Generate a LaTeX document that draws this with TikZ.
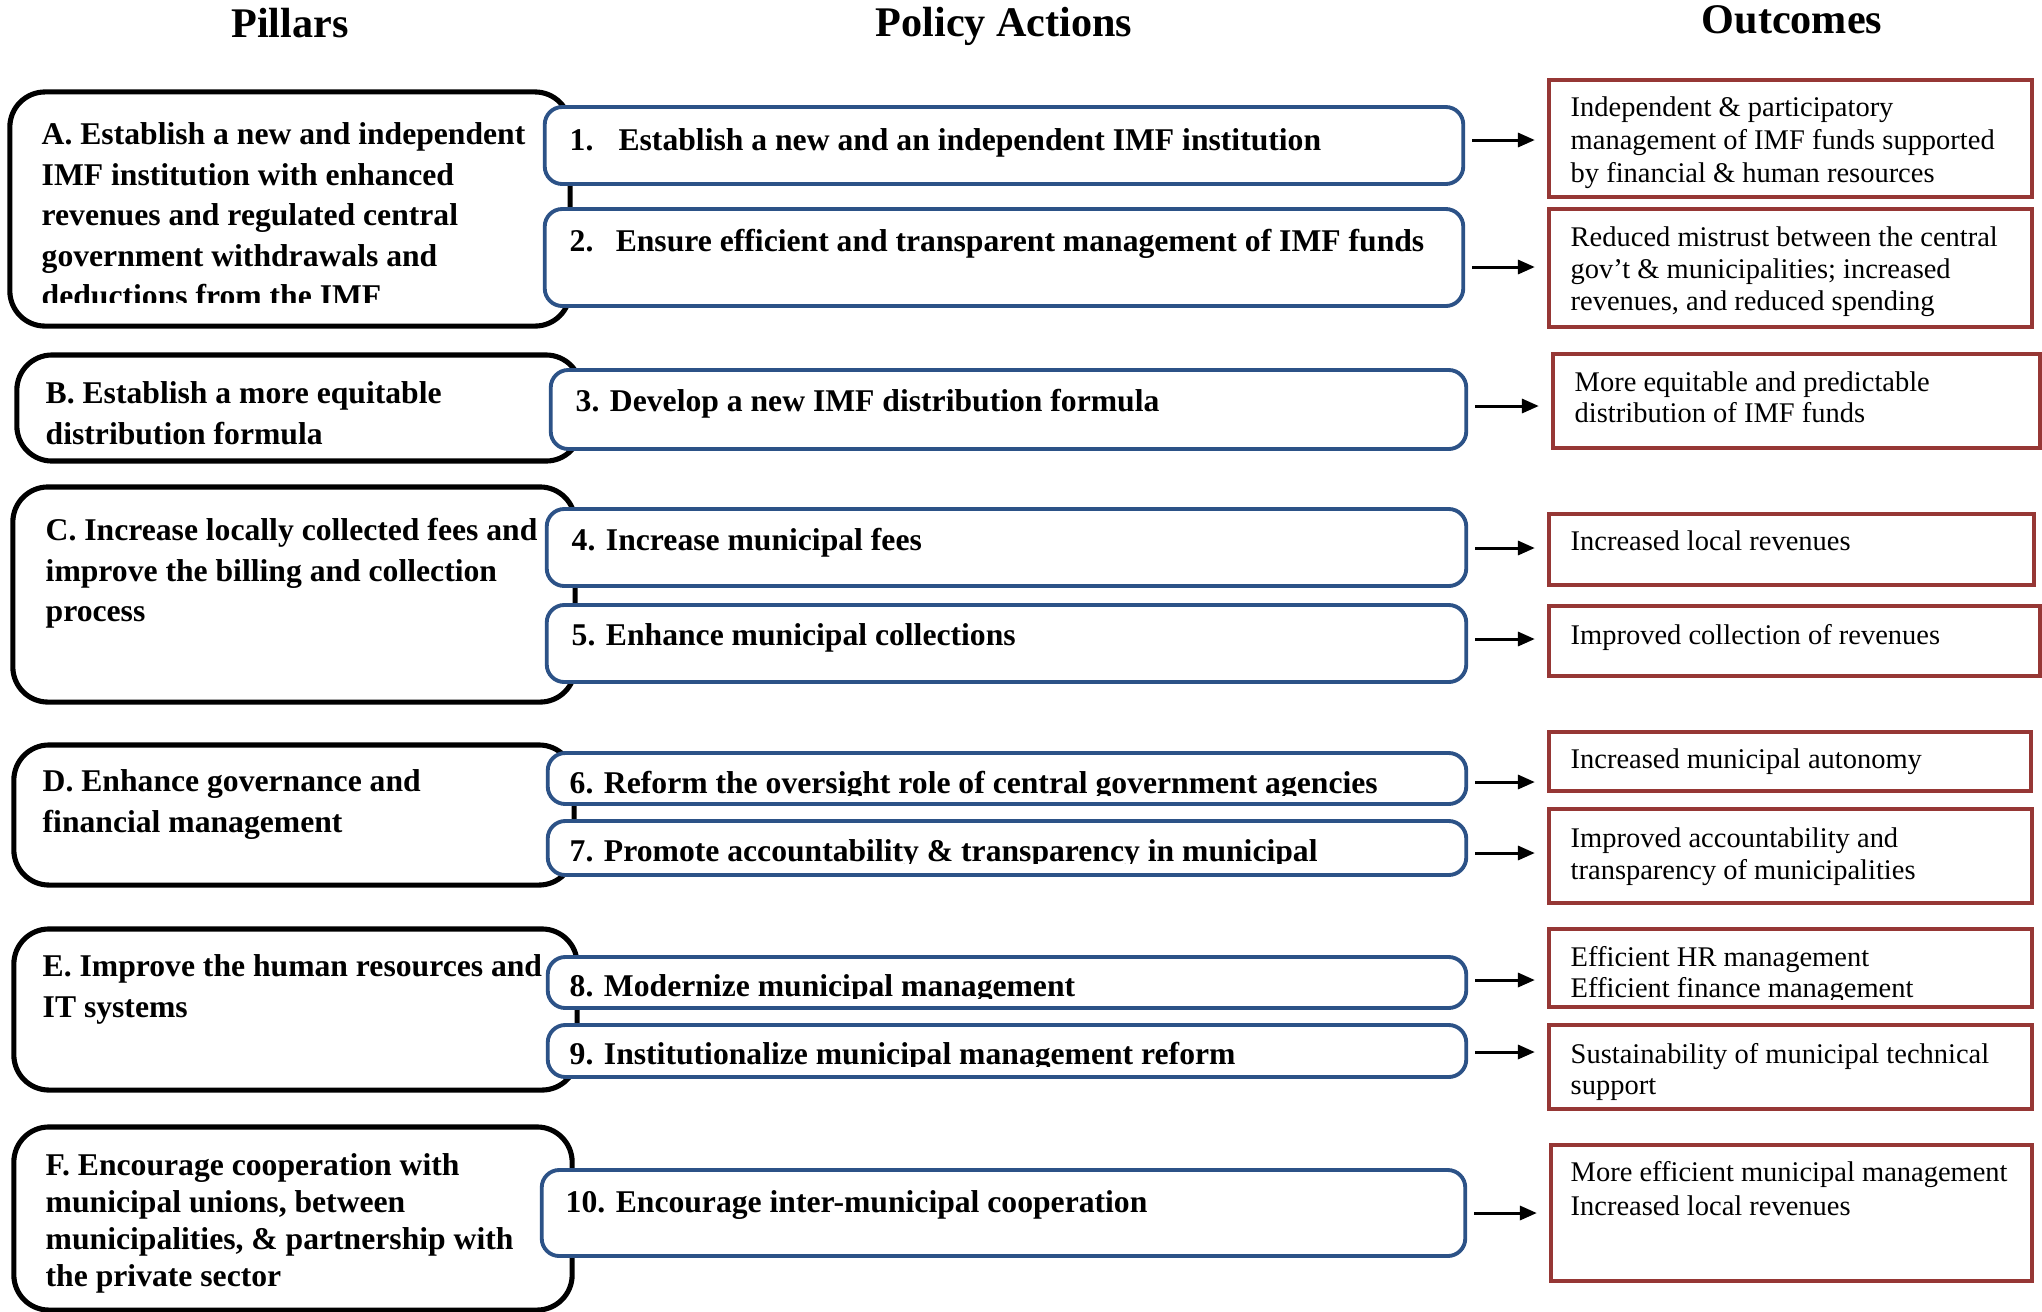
\documentclass[tikz,border=0pt]{standalone}
\usepackage{fontspec}
\setmainfont{Liberation Serif}
\usetikzlibrary{arrows.meta}
\definecolor{polblue}{RGB}{44,82,135}
\definecolor{outred}{RGB}{150,55,53}
\begin{document}
\begin{tikzpicture}[x=0.01cm,y=-0.01cm,
  pillarbox/.style={draw=black, line width=1.45pt, rounded corners=10pt, fill=white, inner sep=0pt, outer sep=0pt},
  policybox/.style={draw=polblue, line width=1.1pt, rounded corners=5pt, fill=white, inner sep=0pt, outer sep=0pt},
  outbox/.style={draw=outred, line width=1.1pt, fill=white, inner sep=0pt, outer sep=0pt},
  ptext/.style={anchor=base west, inner sep=0pt, align=left, font=\fontsize{9}{11.5}\selectfont\bfseries},
  atext/.style={anchor=base west, inner sep=0pt, font=\fontsize{9}{11.5}\selectfont\bfseries},
  otext/.style={anchor=base west, inner sep=0pt, align=left, font=\fontsize{8.1}{#1}\selectfont},
  otext/.default=9.1pt,
  htext/.style={anchor=base, inner sep=0pt, font=\fontsize{12}{14}\selectfont\bfseries},
  arr/.style={draw=black, line width=0.85pt, -{Triangle[length=4.8pt,width=4pt]}, shorten <=2.6pt, shorten >=4pt}
]
\useasboundingbox (0,0) rectangle (2042,1311);

% headers
\node[htext] (h1) at (290,37) {Pillars};
\node[htext] (h2) at (1004,36) {Policy Actions};
\node[htext] (h3) at (1792,33) {Outcomes};

% pillar boxes
\node[pillarbox, minimum width=5.60cm, minimum height=2.34cm] (pA) at (290,209) {};
\node[pillarbox, minimum width=5.64cm, minimum height=1.06cm] (pB) at (299,408) {};
\node[pillarbox, minimum width=5.62cm, minimum height=2.15cm] (pC) at (294,594.5) {};
\node[pillarbox, minimum width=5.60cm, minimum height=1.40cm] (pD) at (294,815) {};
\node[pillarbox, minimum width=5.63cm, minimum height=1.61cm] (pE) at (295.5,1009.5) {};
\node[pillarbox, minimum width=5.58cm, minimum height=1.83cm] (pF) at (293,1218.5) {};

% pillar texts (anchored at the baseline of the last line)
\begin{scope}
\clip (0,0) rectangle (2042,302);
\node[ptext] (tA) at (41,306.6) {A. Establish a new and independent\\IMF institution with enhanced\\revenues and regulated central\\government withdrawals and\\deductions from the IMF};
\end{scope}
\node[ptext] (tB) at (45,444.4) {B. Establish a more equitable\\distribution formula};
\node[ptext] (tC) at (45,621.8) {C. Increase locally collected fees and\\improve the billing and collection\\process};
\node[ptext] (tD) at (42,832.4) {D. Enhance governance and\\financial management};
\node[ptext] (tE) at (42,1017.4) {E. Improve the human resources and\\IT systems};
\node[ptext, font=\fontsize{9}{10.45}\selectfont\bfseries] (tF) at (45,1286.2) {F. Encourage cooperation with\\municipal unions, between\\municipalities, \& partnership with\\the private sector};

% policy boxes
\node[policybox, minimum width=9.18cm, minimum height=0.77cm] (a1) at (1004,145.5) {};
\node[policybox, minimum width=9.18cm, minimum height=0.97cm] (a2) at (1004,257.5) {};
\node[policybox, minimum width=9.15cm, minimum height=0.79cm] (a3) at (1008.5,409.5) {};
\node[policybox, minimum width=9.19cm, minimum height=0.77cm] (a4) at (1006.5,547.5) {};
\node[policybox, minimum width=9.19cm, minimum height=0.77cm] (a5) at (1006.5,643.5) {};
\node[policybox, minimum width=9.18cm, minimum height=0.51cm] (a6) at (1007,778.5) {};
\node[policybox, minimum width=9.18cm, minimum height=0.54cm] (a7) at (1007,848) {};
\node[policybox, minimum width=9.18cm, minimum height=0.51cm] (a8) at (1007,982.5) {};
\node[policybox, minimum width=9.18cm, minimum height=0.52cm] (a9) at (1007,1051) {};
\node[policybox, minimum width=9.23cm, minimum height=0.86cm] (a10) at (1003.5,1213) {};

% policy texts
\node[atext] (s1) at (569,150) {\hbox to 13.9pt{1.\hfil}Establish a new and an independent IMF institution};
\node[atext] (s2) at (569,251) {\hbox to 13.1pt{2.\hfil}Ensure efficient and transparent management of IMF funds};
\node[atext] (s3) at (575,411) {3. Develop a new IMF distribution formula};
\node[atext] (s4) at (571,550) {4. Increase municipal fees};
\node[atext] (s5) at (571,645) {5. Enhance municipal collections};
\begin{scope}
\clip (0,700) rectangle (2042,795);
\node[atext] (s6) at (569,793) {6. Reform the oversight role of central government agencies};
\end{scope}
\begin{scope}
\clip (0,810) rectangle (2042,863);
\node[atext] (s7) at (569,861) {7. Promote accountability \& transparency in municipal};
\end{scope}
\begin{scope}
\clip (0,940) rectangle (2042,998);
\node[atext] (s8) at (569,996) {8. Modernize municipal management};
\end{scope}
\begin{scope}
\clip (0,1010) rectangle (2042,1066);
\node[atext] (s9) at (569,1064) {9. Institutionalize municipal management reform};
\end{scope}
\node[atext] (s10) at (565,1212) {10. Encourage inter-municipal cooperation};

% outcome boxes
\node[outbox, minimum width=4.83cm, minimum height=1.17cm] (o1) at (1790.5,138.5) {};
\node[outbox, minimum width=4.83cm, minimum height=1.18cm] (o2) at (1790.5,268) {};
\node[outbox, minimum width=4.87cm, minimum height=0.94cm] (o3) at (1796.5,401) {};
\node[outbox, minimum width=4.85cm, minimum height=0.71cm] (o4) at (1791.5,549.5) {};
\node[outbox, minimum width=4.91cm, minimum height=0.70cm] (o5) at (1794.5,641) {};
\node[outbox, minimum width=4.82cm, minimum height=0.59cm] (o6) at (1790,761.5) {};
\node[outbox, minimum width=4.83cm, minimum height=0.94cm] (o7) at (1790.5,856) {};
\node[outbox, minimum width=4.83cm, minimum height=0.78cm] (o8) at (1790.5,968) {};
\node[outbox, minimum width=4.83cm, minimum height=0.84cm] (o9) at (1790.5,1067) {};
\node[outbox, minimum width=4.81cm, minimum height=1.36cm] (o10) at (1791.5,1213) {};

% outcome texts (anchored at the baseline of the last line)
\node[otext=9.25pt] (q1) at (1570,182) {Independent \& participatory\\management of IMF funds supported\\by financial \& human resources};
\node[otext=9.0pt] (q2) at (1570,310.2) {Reduced mistrust between the central\\gov’t \& municipalities; increased\\revenues, and reduced spending};
\node[otext=8.6pt] (q3) at (1574,422.2) {More equitable and predictable\\distribution of IMF funds};
\node[otext] (q4) at (1570,550) {Increased local revenues};
\node[otext] (q5) at (1570,644) {Improved collection of revenues};
\node[otext] (q6) at (1570,768) {Increased municipal autonomy};
\node[otext=9.1pt] (q7) at (1570,879) {Improved accountability and\\transparency of municipalities};
\begin{scope}
\clip (1500,900) rectangle (2042,999.5);
\node[otext=8.8pt] (q8) at (1570,997.9) {Efficient HR management\\Efficient finance management};
\end{scope}
\node[otext=8.8pt] (q9) at (1570,1094.9) {Sustainability of municipal technical\\support};
\node[otext=9.4pt] (q10) at (1570,1215) {More efficient municipal management\\Increased local revenues};

% arrow levels
\coordinate (y1) at (0,140);
\coordinate (y2) at (0,267);
\coordinate (y3) at (0,406);
\coordinate (y4) at (0,548);
\coordinate (y5) at (0,639);
\coordinate (y6) at (0,782);
\coordinate (y7) at (0,853);
\coordinate (y8) at (0,980);
\coordinate (y9) at (0,1052);
\coordinate (y10) at (0,1213);

\draw[arr] (a1.east |- y1) -- (o1.west |- y1);
\draw[arr] (a2.east |- y2) -- (o2.west |- y2);
\draw[arr] (a3.east |- y3) -- (o3.west |- y3);
\draw[arr] (a4.east |- y4) -- (o4.west |- y4);
\draw[arr] (a5.east |- y5) -- (o5.west |- y5);
\draw[arr] (a6.east |- y6) -- (o6.west |- y6);
\draw[arr] (a7.east |- y7) -- (o7.west |- y7);
\draw[arr] (a8.east |- y8) -- (o8.west |- y8);
\draw[arr] (a9.east |- y9) -- (o9.west |- y9);
\draw[arr] (a10.east |- y10) -- (o10.west |- y10);
\end{tikzpicture}
\end{document}
